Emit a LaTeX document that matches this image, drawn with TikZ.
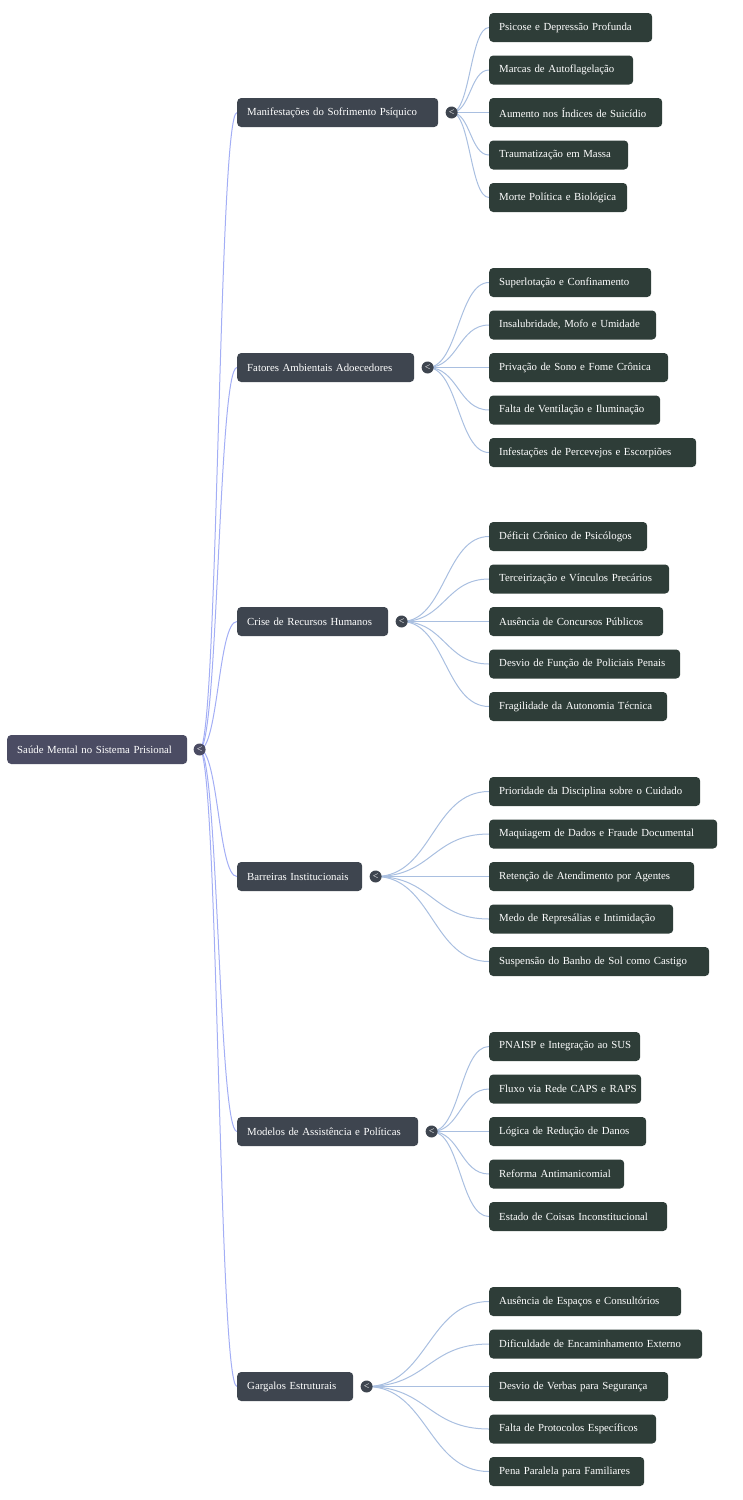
\documentclass[tikz,border=0pt]{standalone}
\usepackage{fontspec}
\setmainfont{Liberation Serif}
\usetikzlibrary{%
  calc,%
  positioning
}
\pgfdeclarelayer{background}
\pgfsetlayers{background,main}

\definecolor{rootfill}{HTML}{4B4C63}
\definecolor{branchfill}{HTML}{3E454F}
\definecolor{leaffill}{HTML}{2E3D38}
\definecolor{rootlink}{HTML}{A3AEF5}
\definecolor{leaflink}{HTML}{A9BFE0}

\tikzset{
  box/.style={anchor=west, rounded corners=4pt, text=white,
    inner xsep=10pt, inner ysep=0pt, minimum height=29pt, align=left,
    font=\fontsize{10.8}{12}\selectfont},
  rootbox/.style={box, fill=rootfill},
  branchbox/.style={box, fill=branchfill},
  leafbox/.style={box, fill=leaffill},
  toggle/.style={circle, inner sep=0pt, minimum size=12pt, text=white,
    font=\fontsize{10}{10}\selectfont},
  link/.style={line width=1pt,
    to path={let \p1=(\tikztostart), \p2=(\tikztotarget) in
      .. controls ({(\x1+\x2)/2},\y1) and ({(\x1+\x2)/2},\y2) .. (\tikztotarget)}}
}

\begin{document}
\begin{tikzpicture}[x=1pt,y=-1pt]
  \useasboundingbox (0,0) rectangle (742,1500);
  % raiz
  \node [rootbox, text width=160pt] (raiz) at (7,749.5) {Saúde Mental no Sistema Prisional};
  \node [toggle, fill=rootfill, right=6pt of raiz] (tg0) {<};
  % ramos
  \node [branchbox, text width=181pt] (ramo1) at (237,112.5) {Manifestações do Sofrimento Psíquico};
  \node [branchbox, text width=157pt] (ramo2) at (237,367.5) {Fatores Ambientais Adoecedores};
  \node [branchbox, text width=131pt] (ramo3) at (237,621.5) {Crise de Recursos Humanos};
  \node [branchbox, text width=105pt] (ramo4) at (237,876.5) {Barreiras Institucionais};
  \node [branchbox, text width=161pt] (ramo5) at (237,1131.5) {Modelos de Assistência e Políticas};
  \node [branchbox, text width=96pt] (ramo6) at (237,1386.5) {Gargalos Estruturais};
  \foreach \r in {1,...,6}
    \node [toggle, fill=branchfill, right=7pt of ramo\r] (tg\r) {<};
  % folhas
  \foreach \w/\txt [count=\k] in {143/Psicose e Depressão Profunda,
      124/Marcas de Autoflagelação, 153/Aumento nos Índices de Suicídio,
      119/Traumatização em Massa, 118/Morte Política e Biológica}
    \node [leafbox, text width=\w pt] (f1-\k) at (489,{112.5+42.5*(\k-3)}) {\mbox{\txt}};
  \foreach \w/\txt [count=\k] in {142/Superlotação e Confinamento,
      147/{Insalubridade, Mofo e Umidade}, 159/Privação de Sono e Fome Crônica,
      151/Falta de Ventilação e Iluminação, 187/Infestações de Percevejos e Escorpiões}
    \node [leafbox, text width=\w pt] (f2-\k) at (489,{367.5+42.5*(\k-3)}) {\mbox{\txt}};
  \foreach \w/\txt [count=\k] in {138/Déficit Crônico de Psicólogos,
      160/Terceirização e Vínculos Precários, 154/Ausência de Concursos Públicos,
      171/Desvio de Função de Policiais Penais, 158/Fragilidade da Autonomia Técnica}
    \node [leafbox, text width=\w pt] (f3-\k) at (489,{621.5+42.5*(\k-3)}) {\mbox{\txt}};
  \foreach \w/\txt [count=\k] in {191/Prioridade da Disciplina sobre o Cuidado,
      208/Maquiagem de Dados e Fraude Documental, 185/Retenção de Atendimento por Agentes,
      164/Medo de Represálias e Intimidação, 200/Suspensão do Banho de Sol como Castigo}
    \node [leafbox, text width=\w pt] (f4-\k) at (489,{876.5+42.5*(\k-3)}) {\mbox{\txt}};
  \foreach \w/\txt [count=\k] in {131/PNAISP e Integração ao SUS,
      132/Fluxo via Rede CAPS e RAPS, 137/Lógica de Redução de Danos,
      115/Reforma Antimanicomial, 158/Estado de Coisas Inconstitucional}
    \node [leafbox, text width=\w pt] (f5-\k) at (489,{1131.5+42.5*(\k-3)}) {\mbox{\txt}};
  \foreach \w/\txt [count=\k] in {172/Ausência de Espaços e Consultórios,
      193/Dificuldade de Encaminhamento Externo, 159/Desvio de Verbas para Segurança,
      147/Falta de Protocolos Específicos, 135/Pena Paralela para Familiares}
    \node [leafbox, text width=\w pt] (f6-\k) at (489,{1386.5+42.5*(\k-3)}) {\mbox{\txt}};
  % ligacoes
  \begin{pgfonlayer}{background}
    \foreach \r in {1,...,6} {
      \draw [link, rootlink] (tg0.center) to (ramo\r.west);
      \foreach \k in {1,...,5}
        \draw [link, leaflink] (tg\r.center) to (f\r-\k.west);
    }
  \end{pgfonlayer}
\end{tikzpicture}
\end{document}
